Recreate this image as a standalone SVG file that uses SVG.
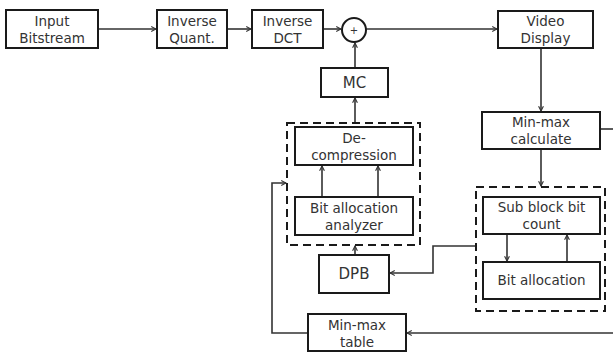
<svg xmlns="http://www.w3.org/2000/svg" width="613" height="352" viewBox="0 0 613 352">
  <defs>
    <style>
      .box { fill: #ffffff; stroke: #1a1a1a; stroke-width: 2; }
      .group { fill: none; stroke: #1a1a1a; stroke-width: 2; stroke-dasharray: 8 5; }
      .label { font-family: "DejaVu Sans", "Noto Sans", sans-serif; font-size: 13.5px; fill: #333333; text-anchor: middle; }
      .big { font-size: 15px; }
      .link { fill: none; stroke: #333333; stroke-width: 1.6; marker-end: url(#arrow); }
      .plain { fill: none; stroke: #333333; stroke-width: 1.6; }
    </style>
    <marker id="arrow" viewBox="0 0 10 10" refX="9" refY="5" markerWidth="6" markerHeight="6" markerUnits="userSpaceOnUse" orient="auto">
      <path d="M1,1 L9,5 L1,9" fill="none" stroke="#333333" stroke-width="1.8"/>
    </marker>
  </defs>

  <g id="connectors">
    <line class="link" x1="98" y1="29" x2="156" y2="29"/>
    <line class="link" x1="227" y1="29" x2="251" y2="29"/>
    <line class="link" x1="323" y1="29" x2="341" y2="29"/>
    <line class="link" x1="366" y1="29" x2="497" y2="29"/>
    <line class="link" x1="355" y1="68" x2="355" y2="43"/>
    <line class="link" x1="355" y1="123" x2="355" y2="98"/>
    <line class="link" x1="355" y1="255" x2="355" y2="246"/>
    <line class="link" x1="322" y1="197" x2="322" y2="166"/>
    <line class="link" x1="378" y1="197" x2="378" y2="166"/>
    <line class="link" x1="541" y1="48" x2="541" y2="111"/>
    <line class="link" x1="541" y1="149" x2="541" y2="186"/>
    <line class="plain" x1="600" y1="129" x2="613" y2="129"/>
    <line class="link" x1="507" y1="234" x2="507" y2="261"/>
    <line class="link" x1="567" y1="262" x2="567" y2="235"/>
    <polyline class="link" points="476,246 433,246 433,273 390,273"/>
    <line class="link" x1="613" y1="333" x2="407" y2="333"/>
    <polyline class="link" points="308,333 272,333 272,183 286,183"/>
  </g>

  <g id="input-bitstream">
    <rect class="box" x="6" y="10" width="92" height="38"/>
    <text class="label" x="52" y="26">Input</text>
    <text class="label" x="52" y="43">Bitstream</text>
  </g>

  <g id="inverse-quant">
    <rect class="box" x="157" y="10" width="70" height="38"/>
    <text class="label" x="192" y="26">Inverse</text>
    <text class="label" x="192" y="43">Quant.</text>
  </g>

  <g id="inverse-dct">
    <rect class="box" x="252" y="10" width="71" height="38"/>
    <text class="label" x="287.5" y="26">Inverse</text>
    <text class="label" x="287.5" y="43">DCT</text>
  </g>

  <g id="adder">
    <circle cx="354" cy="30" r="12" fill="#ffffff" stroke="#1a1a1a" stroke-width="2"/>
    <text class="label" x="354" y="34" style="font-size:10px">+</text>
  </g>

  <g id="video-display">
    <rect class="box" x="498" y="11" width="95" height="37"/>
    <text class="label" x="545.5" y="26">Video</text>
    <text class="label" x="545.5" y="43">Display</text>
  </g>

  <g id="mc">
    <rect class="box" x="321" y="68" width="67" height="29"/>
    <text class="label big" x="354.5" y="88">MC</text>
  </g>

  <g id="decoder-group">
    <rect class="group" x="287" y="123" width="133" height="122"/>
  </g>

  <g id="decompression">
    <rect class="box" x="295" y="127" width="118" height="38"/>
    <text class="label" x="354" y="143">De-</text>
    <text class="label" x="354" y="160">compression</text>
  </g>

  <g id="bit-allocation-analyzer">
    <rect class="box" x="295" y="197" width="118" height="38"/>
    <text class="label" x="354" y="213">Bit allocation</text>
    <text class="label" x="354" y="230">analyzer</text>
  </g>

  <g id="dpb">
    <rect class="box" x="319" y="255" width="70" height="38"/>
    <text class="label big" x="354" y="279">DPB</text>
  </g>

  <g id="minmax-calculate">
    <rect class="box" x="482" y="112" width="118" height="37"/>
    <text class="label" x="541" y="127">Min-max</text>
    <text class="label" x="541" y="144">calculate</text>
  </g>

  <g id="encoder-group">
    <rect class="group" x="476" y="187" width="129" height="124"/>
  </g>

  <g id="sub-block-bit-count">
    <rect class="box" x="483" y="197" width="117" height="37"/>
    <text class="label" x="541.5" y="212">Sub block bit</text>
    <text class="label" x="541.5" y="229">count</text>
  </g>

  <g id="bit-allocation">
    <rect class="box" x="483" y="262" width="117" height="37"/>
    <text class="label" x="541.5" y="285">Bit allocation</text>
  </g>

  <g id="minmax-table">
    <rect class="box" x="308" y="314" width="98" height="37"/>
    <text class="label" x="357" y="330">Min-max</text>
    <text class="label" x="357" y="347">table</text>
  </g>
</svg>
